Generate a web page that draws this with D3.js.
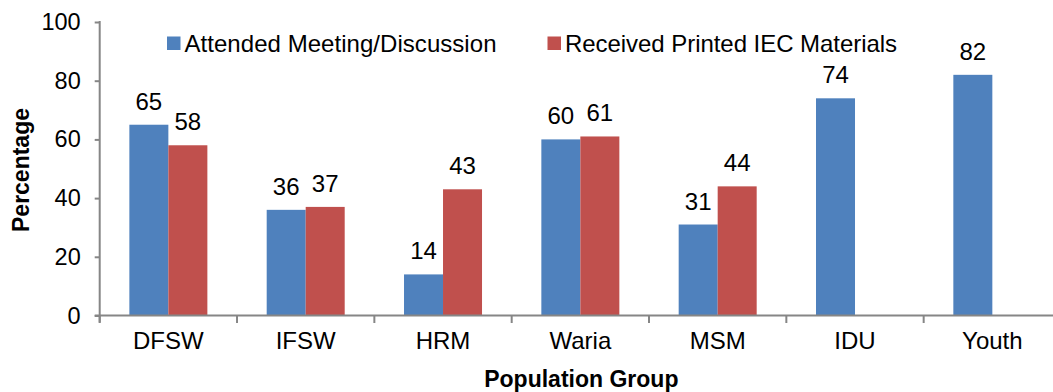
<!DOCTYPE html>
<html>
<head>
<meta charset="utf-8">
<script src="https://cdn.jsdelivr.net/npm/d3@7"></script>
<style>
  html, body { margin: 0; padding: 0; background: #fff; }
  svg { display: block; font-family: "Liberation Sans", Arial, sans-serif; }
</style>
</head>
<body>
<svg id="chart" width="1053" height="392"></svg>
<script>
const categories = ["DFSW", "IFSW", "HRM", "Waria", "MSM", "IDU", "Youth"];
const seriesNames = ["Attended Meeting/Discussion", "Received Printed IEC Materials"];
const attended = [65, 36, 14, 60, 31, 74, 82];
const received = [58, 37, 43, 61, 44, null, null];
const yTicks = [0, 20, 40, 60, 80, 100];
const colors = ["#4F81BD", "#C0504D"];

const svg = d3.select("#chart");
const plotLeft = 99.7, plotRight = 1061, plotTop = 22, plotBottom = 315.5;

const x0 = d3.scaleBand().domain(categories).range([plotLeft, plotRight])
  .paddingInner(0.432).paddingOuter(0.216);
const x1 = d3.scaleBand().domain(seriesNames).range([0, x0.bandwidth()]);
const y = d3.scaleLinear().domain([0, 100]).range([plotBottom, plotTop]);

const seriesData = [attended, received];

// bars
const groups = svg.append("g").selectAll("g").data(categories).join("g")
  .attr("transform", d => `translate(${x0(d)},0)`);

groups.each(function(cat, i) {
  const g = d3.select(this);
  seriesNames.forEach((s, k) => {
    const v = seriesData[k][i];
    if (v == null) return;
    g.append("rect")
      .attr("x", x1(s))
      .attr("y", y(v))
      .attr("width", x1.bandwidth())
      .attr("height", y(0) - y(v))
      .attr("fill", colors[k]);
    g.append("text")
      .attr("x", x1(s) + x1.bandwidth() / 2)
      .attr("y", y(v) - 15)
      .attr("text-anchor", "middle")
      .attr("font-size", 24)
      .attr("fill", "#000")
      .text(v);
  });
});

// y axis
const yAxis = svg.append("g").attr("transform", `translate(${plotLeft},0)`)
  .call(d3.axisLeft(y).tickValues(yTicks).tickSize(5).tickSizeOuter(0).tickPadding(14));
yAxis.select(".domain").attr("stroke", "#868686").attr("stroke-width", 2)
  .attr("d", `M0,${plotTop - 1}V${plotBottom + 7}`);
yAxis.selectAll(".tick line").attr("stroke", "#868686").attr("stroke-width", 2);
yAxis.selectAll(".tick text").attr("font-size", 23.5).attr("fill", "#000")
  .attr("font-family", "Liberation Sans, Arial, sans-serif");

// x axis
const boundaries = categories.map(c => x0(c) - x0.step() * x0.paddingInner() / 2);
const xAxis = svg.append("g").attr("transform", `translate(0,${plotBottom})`)
  .call(d3.axisBottom(x0).tickSize(0).tickSizeOuter(0).tickPadding(16));
xAxis.select(".domain").attr("stroke", "#868686").attr("stroke-width", 2)
  .attr("d", `M${plotLeft - 5},0H${plotRight}`);
xAxis.selectAll(".tick text").attr("font-size", 24).attr("fill", "#000")
  .attr("dy", "0.71em")
  .attr("font-family", "Liberation Sans, Arial, sans-serif");
xAxis.selectAll(".sep").data(boundaries).join("line").attr("class", "sep")
  .attr("x1", d => d).attr("x2", d => d).attr("y1", 0).attr("y2", 7.5)
  .attr("stroke", "#868686").attr("stroke-width", 2);

// axis titles
svg.append("text")
  .attr("transform", `translate(29,170) rotate(-90)`)
  .attr("text-anchor", "middle")
  .attr("font-size", 23).attr("font-weight", "bold")
  .text("Percentage");
svg.append("text")
  .attr("x", (plotLeft + plotRight) / 2 + 1).attr("y", 386.5)
  .attr("text-anchor", "middle")
  .attr("font-size", 23).attr("font-weight", "bold")
  .text("Population Group");

// legend
const legendX = [167, 547.5];
seriesNames.forEach((s, k) => {
  svg.append("rect").attr("x", legendX[k]).attr("y", 36.5).attr("width", 13.5).attr("height", 13.5)
    .attr("fill", colors[k]);
  svg.append("text").attr("x", legendX[k] + 17.5).attr("y", 51.5)
    .attr("font-size", 24).attr("fill", "#000")
    .attr("textLength", k === 0 ? 312 : 332)
    .text(s);
});
</script>
</body>
</html>
